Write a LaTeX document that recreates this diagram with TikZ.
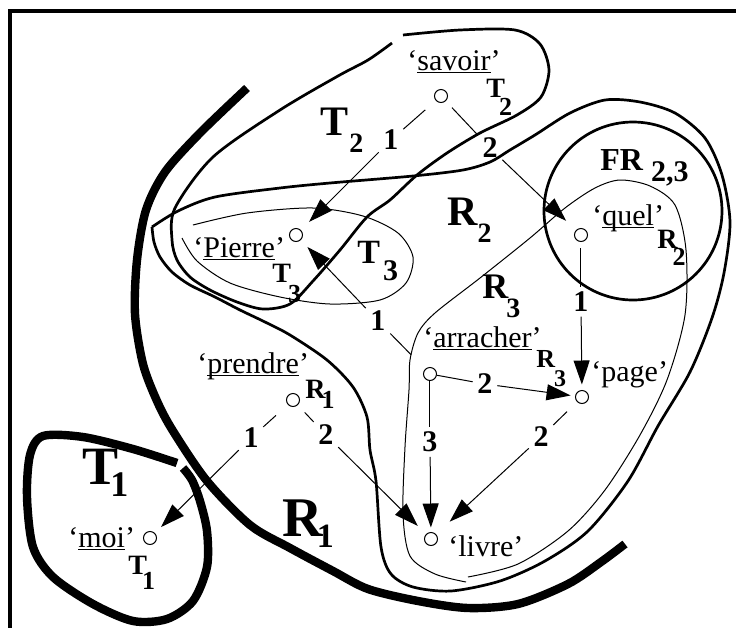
\documentclass[tikz,border=0pt]{standalone}
\usepackage{fontspec}
\setmainfont{Liberation Serif}
\usetikzlibrary{arrows.meta}

\newcommand{\regname}[5]{#1\kern#3\raisebox{-#4}{\fontsize{#5}{#5}\selectfont #2}}
\newcommand{\uword}[1]{‘\underline{\smash{#1}}’}

\begin{document}
\begin{tikzpicture}[x=0.5pt, y=-0.5pt,
  vert/.style={draw, circle, minimum size=6.5pt, inner sep=0pt, line width=0.5pt},
  word/.style={anchor=base west, inner sep=0pt, font=\fontsize{15}{15}\selectfont},
  num/.style={font=\fontsize{15}{15}\selectfont\bfseries, inner sep=2.2pt},
  tag/.style={anchor=base west, inner sep=0pt, font=\fontsize{14}{14}\selectfont\bfseries},
  big/.style={anchor=base west, inner sep=0pt, font=\fontsize{21}{21}\selectfont\bfseries},
  link/.style={line width=0.5pt},
  arr/.style={link, -{Triangle[length=12pt, width=8pt]}},
  thinline/.style={line width=0.5pt},
  bound/.style={line width=1.35pt},
  heavy/.style={line width=4.2pt}
]
\useasboundingbox (0,0) rectangle (736,628);

%% Frame
\draw[line width=1.6pt] (10,628) -- (10,11) -- (736,11);

%% Region boundaries
% R1 (heavy open stroke)
\draw[heavy] plot[smooth] coordinates {(247,88) (200,133) (165,172) (146,210) (137,260)
  (135,314) (143,364) (157,401) (173,431) (207,481) (250,525) (290,548) (333,571)
  (368,589) (418,601) (468,608) (518,604) (568,584) (601,562) (625,544)};
% T1 (heavy loop, cut at the top)
\draw[heavy] plot[smooth] coordinates {(183,468) (192,480) (200,501) (207,531) (207,567)
  (193,601) (167,619) (133,621) (93,604) (53,577) (33,547) (27,497) (30,455) (43,436)
  (83,437) (133,449) (177,463)};
% T2
\draw[bound] plot[smooth] coordinates {(403,35) (460,30) (515,30) (540,44) (549,70)
  (541,97) (517,115) (480,133) (447,153) (417,175) (390,200) (367,217) (340,250)
  (313,281) (290,304) (263,309) (237,302) (210,290) (190,277) (177,260) (172,240)
  (175,208) (213,157) (280,110) (338,76) (368,60) (392,43)};
% R2 (corner at the left)
\draw[bound] plot[smooth] coordinates {(152,227) (178,211) (215,197) (280,188) (330,183)
  (413,176) (463,170) (490,162) (510,150) (535,135) (570,113) (605,100) (640,102)
  (675,113) (705,138) (722,175) (730,222) (724,273) (712,318) (690,372) (658,426)
  (628,481) (588,531) (545,561) (500,581) (451,591) (413,587) (391,574) (381,547)
  (376,481) (370,450) (367,417) (353,387) (327,360) (290,335) (265,322) (240,310)
  (215,297) (190,285) (172,272) (160,257) (154,242) (152,227)};
% FR 2,3
\draw[bound] (633,211) circle [radius=89];
% R3
\draw[thinline] plot[smooth] coordinates {(466,582) (435,574) (410,556) (403,514) (405,447)
  (409,390) (410,360) (418,333) (435,313) (480,278) (530,238) (565,208) (595,188)
  (620,180) (650,186) (675,205) (686,250) (685,315) (667,380) (640,435) (605,490)
  (568,531) (518,564) (468,577)};
% T3
\draw[thinline] plot[smooth] coordinates {(193,225) (247,213) (313,208) (363,216) (398,233)
  (413,257) (406,283) (380,300) (330,304) (280,297) (230,283) (197,261) (182,238)};

%% Region names
\node[big] (lt2) at (320,135) {\regname{T}{2}{0.5pt}{8.5pt}{14}};
\node[big] (lr2) at (447,225) {\regname{R}{2}{0pt}{8.5pt}{14}};
\node[big, font=\fontsize{18}{18}\selectfont\bfseries] (lr3) at (482,298) {\regname{R}{3}{-1pt}{9.5pt}{14}};
\node[big, font=\fontsize{17}{17}\selectfont\bfseries] (lt3) at (357,263) {\regname{T}{3}{1.5pt}{8.5pt}{15}};
\node[big, font=\fontsize{16}{16}\selectfont\bfseries] (lfr) at (600,170) {\regname{FR}{2,3}{4pt}{5.5pt}{15}};
\node[big, font=\fontsize{27}{27}\selectfont\bfseries] (lt1) at (82,484) {\regname{T}{1}{-4pt}{6pt}{18}};
\node[big, font=\fontsize{28}{28}\selectfont\bfseries] (lr1) at (282,536) {\regname{R}{1}{-3pt}{5.5pt}{17}};

%% Vertices
\node[vert] (sav) at (441,96) {};
\node[vert] (pie) at (296,235) {};
\node[vert] (que) at (581,235) {};
\node[vert] (arr) at (430,374) {};
\node[vert] (pag) at (582,397) {};
\node[vert] (liv) at (431,539) {};
\node[vert] (pre) at (293,400) {};
\node[vert] (moi) at (150,538) {};

%% Words
\node[word] (wsav) at (407,70) {\uword{savoir}};
\node[word] (wpie) at (193,257) {\uword{Pierre}};
\node[word] (wque) at (592,225) {\uword{quel}};
\node[word] (warr) at (423,347) {\uword{arracher}};
\node[word] (wpag) at (591,381) {‘page’};
\node[word] (wliv) at (448,556) {‘livre’};
\node[word] (wpre) at (197,373) {\uword{prendre}};
\node[word] (wmoi) at (68,547) {\uword{moi}};

%% Word tags
\node[tag] (tsav) at (486,97) {\regname{T}{2}{-3pt}{9pt}{13}};
\node[tag] (tpie) at (272,282) {\regname{T}{3}{-1.5pt}{10pt}{13}};
\node[tag] (tque) at (657,248) {\regname{R}{2}{-2.5pt}{8.5pt}{13}};
\node[tag, font=\fontsize{13}{13}\selectfont\bfseries] (tarr) at (536,367) {\regname{R}{3}{-0.5pt}{9.5pt}{12}};
\node[tag] (tpre) at (305,398) {\regname{R}{1}{-2pt}{5pt}{13}};
\node[tag] (tmoi) at (128,574) {\regname{T}{1}{-2.5pt}{7.5pt}{13}};

%% Dependencies
\node[num] (e1) at (391,140) {1};
\draw[link, shorten <=7pt] (sav) -- (e1);
\draw[arr, shorten >=5.75pt] (e1) -- (pie);

\node[num] (e2) at (490,148) {2};
\draw[link, shorten <=4.5pt] (sav) -- (e2);
\draw[arr, shorten >=6.75pt] (e2) -- (que);

\node[num] (e3) at (581,302) {1};
\draw[link, shorten <=3pt] (que) -- (e3);
\draw[arr, shorten >=2.75pt] (e3) -- (pag);

\node[num] (e4) at (378,321) {1};
\draw[link, shorten <=10pt] (arr) -- (e4);
\draw[arr, shorten >=4.75pt] (e4) -- (pie);

\node[num] (e5) at (485,384) {2};
\draw[link] (arr) -- (e5);
\draw[arr, shorten >=2.25pt] (e5) -- (pag);

\node[num] (e6) at (430,442) {3};
\draw[link] (arr) -- (e6);
\draw[arr, shorten >=2.25pt] (e6) -- (liv);

\node[num] (e7) at (541,437) {2};
\draw[link, shorten <=7pt] (pag) -- (e7);
\draw[arr, shorten >=9.25pt] (e7) -- (liv);

\node[num] (e8) at (251,438) {1};
\draw[link, shorten <=8pt] (pre) -- (e8);
\draw[arr, shorten >=4.25pt] (e8) -- (moi);

\node[num] (e9) at (326,435) {2};
\draw[link, shorten <=5pt] (pre) -- (e9);
\draw[arr, shorten >=5.75pt] (e9) -- (liv);
\end{tikzpicture}
\end{document}
